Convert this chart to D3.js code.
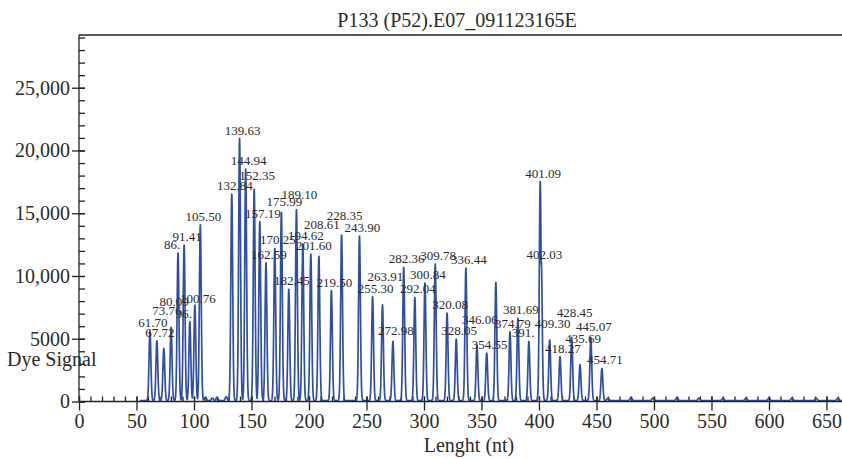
<!DOCTYPE html>
<html>
<head>
<meta charset="utf-8">
<script src="https://cdn.jsdelivr.net/npm/d3@7"></script>
<style>
  body { margin: 0; background: #fff; }
  svg { display: block; }
  text { font-family: "Liberation Serif", "DejaVu Serif", serif; fill: #2b2b2b; }
  .axis path, .axis line { stroke: #222; stroke-width: 1.3; }
  .axis text { font-size: 20px; font-family: "Liberation Serif", serif; fill: #2b2b2b; }
  .trace { fill: none; stroke: #2f4ea6; stroke-width: 1.7; stroke-linejoin: round; }
  .peak-label { font-size: 13px; }
</style>
</head>
<body>
<div id="chart"></div>
<script>
// peak sizes (nt) and heights (dye signal)
const peakSizes = [61.70, 67.72, 73.76, 80.09, 86.1, 91.41, 96.4, 100.76, 105.50,
  132.84, 139.63, 144.94, 152.35, 157.19, 162.59, 170.25, 175.99, 182.45, 189.10,
  194.62, 201.60, 208.61, 219.50, 228.35, 243.90, 255.30, 263.91, 272.98, 282.36,
  292.04, 300.84, 309.78, 320.08, 328.05, 336.44, 346.06, 354.55, 362.5, 374.79,
  381.69, 391.2, 401.09, 402.03, 409.30, 418.27, 428.45, 435.69, 445.07, 454.71];
const peakHeights = [5560, 4760, 4150, 5830, 11750, 12390, 6280, 7600, 13990,
  16460, 20900, 18450, 16860, 14250, 10960, 12130, 15000, 8880, 15210,
  12470, 11670, 11490, 8750, 13210, 13090, 8270, 7630, 4710, 10610,
  8220, 9360, 10880, 6970, 4900, 10560, 4440, 3780, 9420, 5480,
  6550, 4710, 17440, 11000, 4820, 3490, 5030, 2850, 5030, 2560];
const peakLabels = ["61.70", "67.72", "73.76", "80.09", "86.", "91.41", "96.", "100.76", "105.50",
  "132.84", "139.63", "144.94", "152.35", "157.19", "162.59", "170.25", "175.99", "182.45", "189.10",
  "194.62", "201.60", "208.61", "219.50", "228.35", "243.90", "255.30", "263.91", "272.98", "282.36",
  "292.04", "300.84", "309.78", "320.08", "328.05", "336.44", "346.06", "354.55", "", "374.79",
  "381.69", "391.", "401.09", "402.03", "409.30", "418.27", "428.45", "435.69", "445.07", "454.71"];
// small stutter / background bumps
const minorSizes = [110, 116, 120, 128, 460, 480, 499, 520, 539, 560, 580, 600, 620, 641, 660];
const minorHeights = [250, 200, 250, 300, 200, 250, 200, 250, 200, 200, 200, 200, 200, 200, 200];
const xTicks = d3.range(0, 651, 50);
const yTicks = [0, 5000, 10000, 15000, 20000, 25000];

const title = "P133 (P52).E07_091123165E";
const xTitle = "Lenght (nt)";
const yTitle = "Dye Signal";

// label lift above peak top (px); default 5
const labelLift = {"73.76": 34, "80.09": 22, "152.35": 10, "189.10": 12, "208.61": 28,
  "228.35": 16, "263.91": 25, "346.06": 22, "409.30": 13, "428.45": 21, "435.69": 23,
  "100.76": 3, "175.99": 7, "272.98": 7, "445.07": 7, "402.03": 4, "139.63": 4};

const width = 842;
const height = 459;
const marginLeft = 79;
const plotTop = 35;
const plotBottom = 401.5;

const svg = d3.select('#chart').append('svg')
  .attr('width', width)
  .attr('height', height);

const x = d3.scaleLinear().domain([0, 663.5]).range([marginLeft, width]);
const y = d3.scaleLinear().domain([0, 29200]).range([plotBottom, plotTop]);

// build the trace from the peaks (each drawn as a narrow peak shape)
const sigma = 0.8;
const peaks = peakSizes.map((s, i) => ({s, h: peakHeights[i]}))
  .concat(minorSizes.map((s, i) => ({s, h: minorHeights[i]})));
const trace = [];
for (let t = 53; t <= 663.5; t += 0.1) {
  let v = 80;
  for (const p of peaks) {
    const d = (t - p.s) / sigma;
    if (Math.abs(d) < 6) v = Math.max(v, 80 + p.h * Math.exp(-0.5 * d * d));
  }
  trace.push([t, v]);
}

// minor ticks, inside
svg.append('g')
  .attr('class', 'axis')
  .attr('transform', `translate(${marginLeft},0)`)
  .call(d3.axisLeft(y).tickValues(d3.range(0, 29001, 1000)).tickSize(-6).tickSizeOuter(0).tickFormat(''))
  .select('.domain').remove();
svg.append('g')
  .attr('class', 'axis')
  .attr('transform', `translate(0,${plotBottom})`)
  .call(d3.axisBottom(x).tickValues(d3.range(0, 661, 10)).tickSize(-5).tickSizeOuter(0).tickFormat(''))
  .select('.domain').remove();

// the trace
svg.append('path')
  .datum(trace)
  .attr('class', 'trace')
  .attr('d', d3.line().x(d => x(d[0])).y(d => y(d[1])));

// major axes
const yAxis = svg.append('g')
  .attr('class', 'axis')
  .attr('transform', `translate(${marginLeft},0)`)
  .call(d3.axisLeft(y).tickValues(yTicks).tickSize(7).tickSizeOuter(0).tickPadding(2)
    .tickFormat(d => d >= 10000 ? d3.format(',')(d) : d));
yAxis.selectAll('.tick line').attr('x2', -7).attr('x1', 6);
yAxis.select('.domain').attr('d', `M0,${y(0)}V${plotTop}`);

const xAxis = svg.append('g')
  .attr('class', 'axis')
  .attr('transform', `translate(0,${plotBottom})`)
  .call(d3.axisBottom(x).tickValues(xTicks).tickSize(9).tickSizeOuter(0).tickPadding(3));
xAxis.selectAll('.tick line').attr('y1', -5);
xAxis.select('.domain').attr('d', `M${marginLeft},0H${width}`);

// top frame line
svg.append('path')
  .attr('d', `M${marginLeft},${plotTop}H${width}`)
  .attr('stroke', '#222')
  .attr('stroke-width', 1.3);

// peak labels
svg.append('g')
  .selectAll('text')
  .data(peakSizes.map((s, i) => ({s, h: peakHeights[i], label: peakLabels[i]})).filter(d => d.label))
  .join('text')
  .attr('class', 'peak-label')
  .attr('x', d => d.label.endsWith('.') ? x(d.s) + 2 - (d.label.length + 2) * 3.2 : x(d.s) + 3)
  .attr('y', d => y(d.h) - (labelLift[d.label] ?? 5))
  .attr('text-anchor', d => d.label.endsWith('.') ? 'start' : 'middle')
  .text(d => d.label);

// titles
svg.append('text')
  .attr('x', 457)
  .attr('y', 27)
  .attr('text-anchor', 'middle')
  .style('font-size', '20px')
  .text(title);

svg.append('text')
  .attr('x', 7)
  .attr('y', 366)
  .style('font-size', '20px')
  .text(yTitle);

svg.append('text')
  .attr('x', 469)
  .attr('y', 452)
  .attr('text-anchor', 'middle')
  .style('font-size', '20px')
  .text(xTitle);
</script>
</body>
</html>
